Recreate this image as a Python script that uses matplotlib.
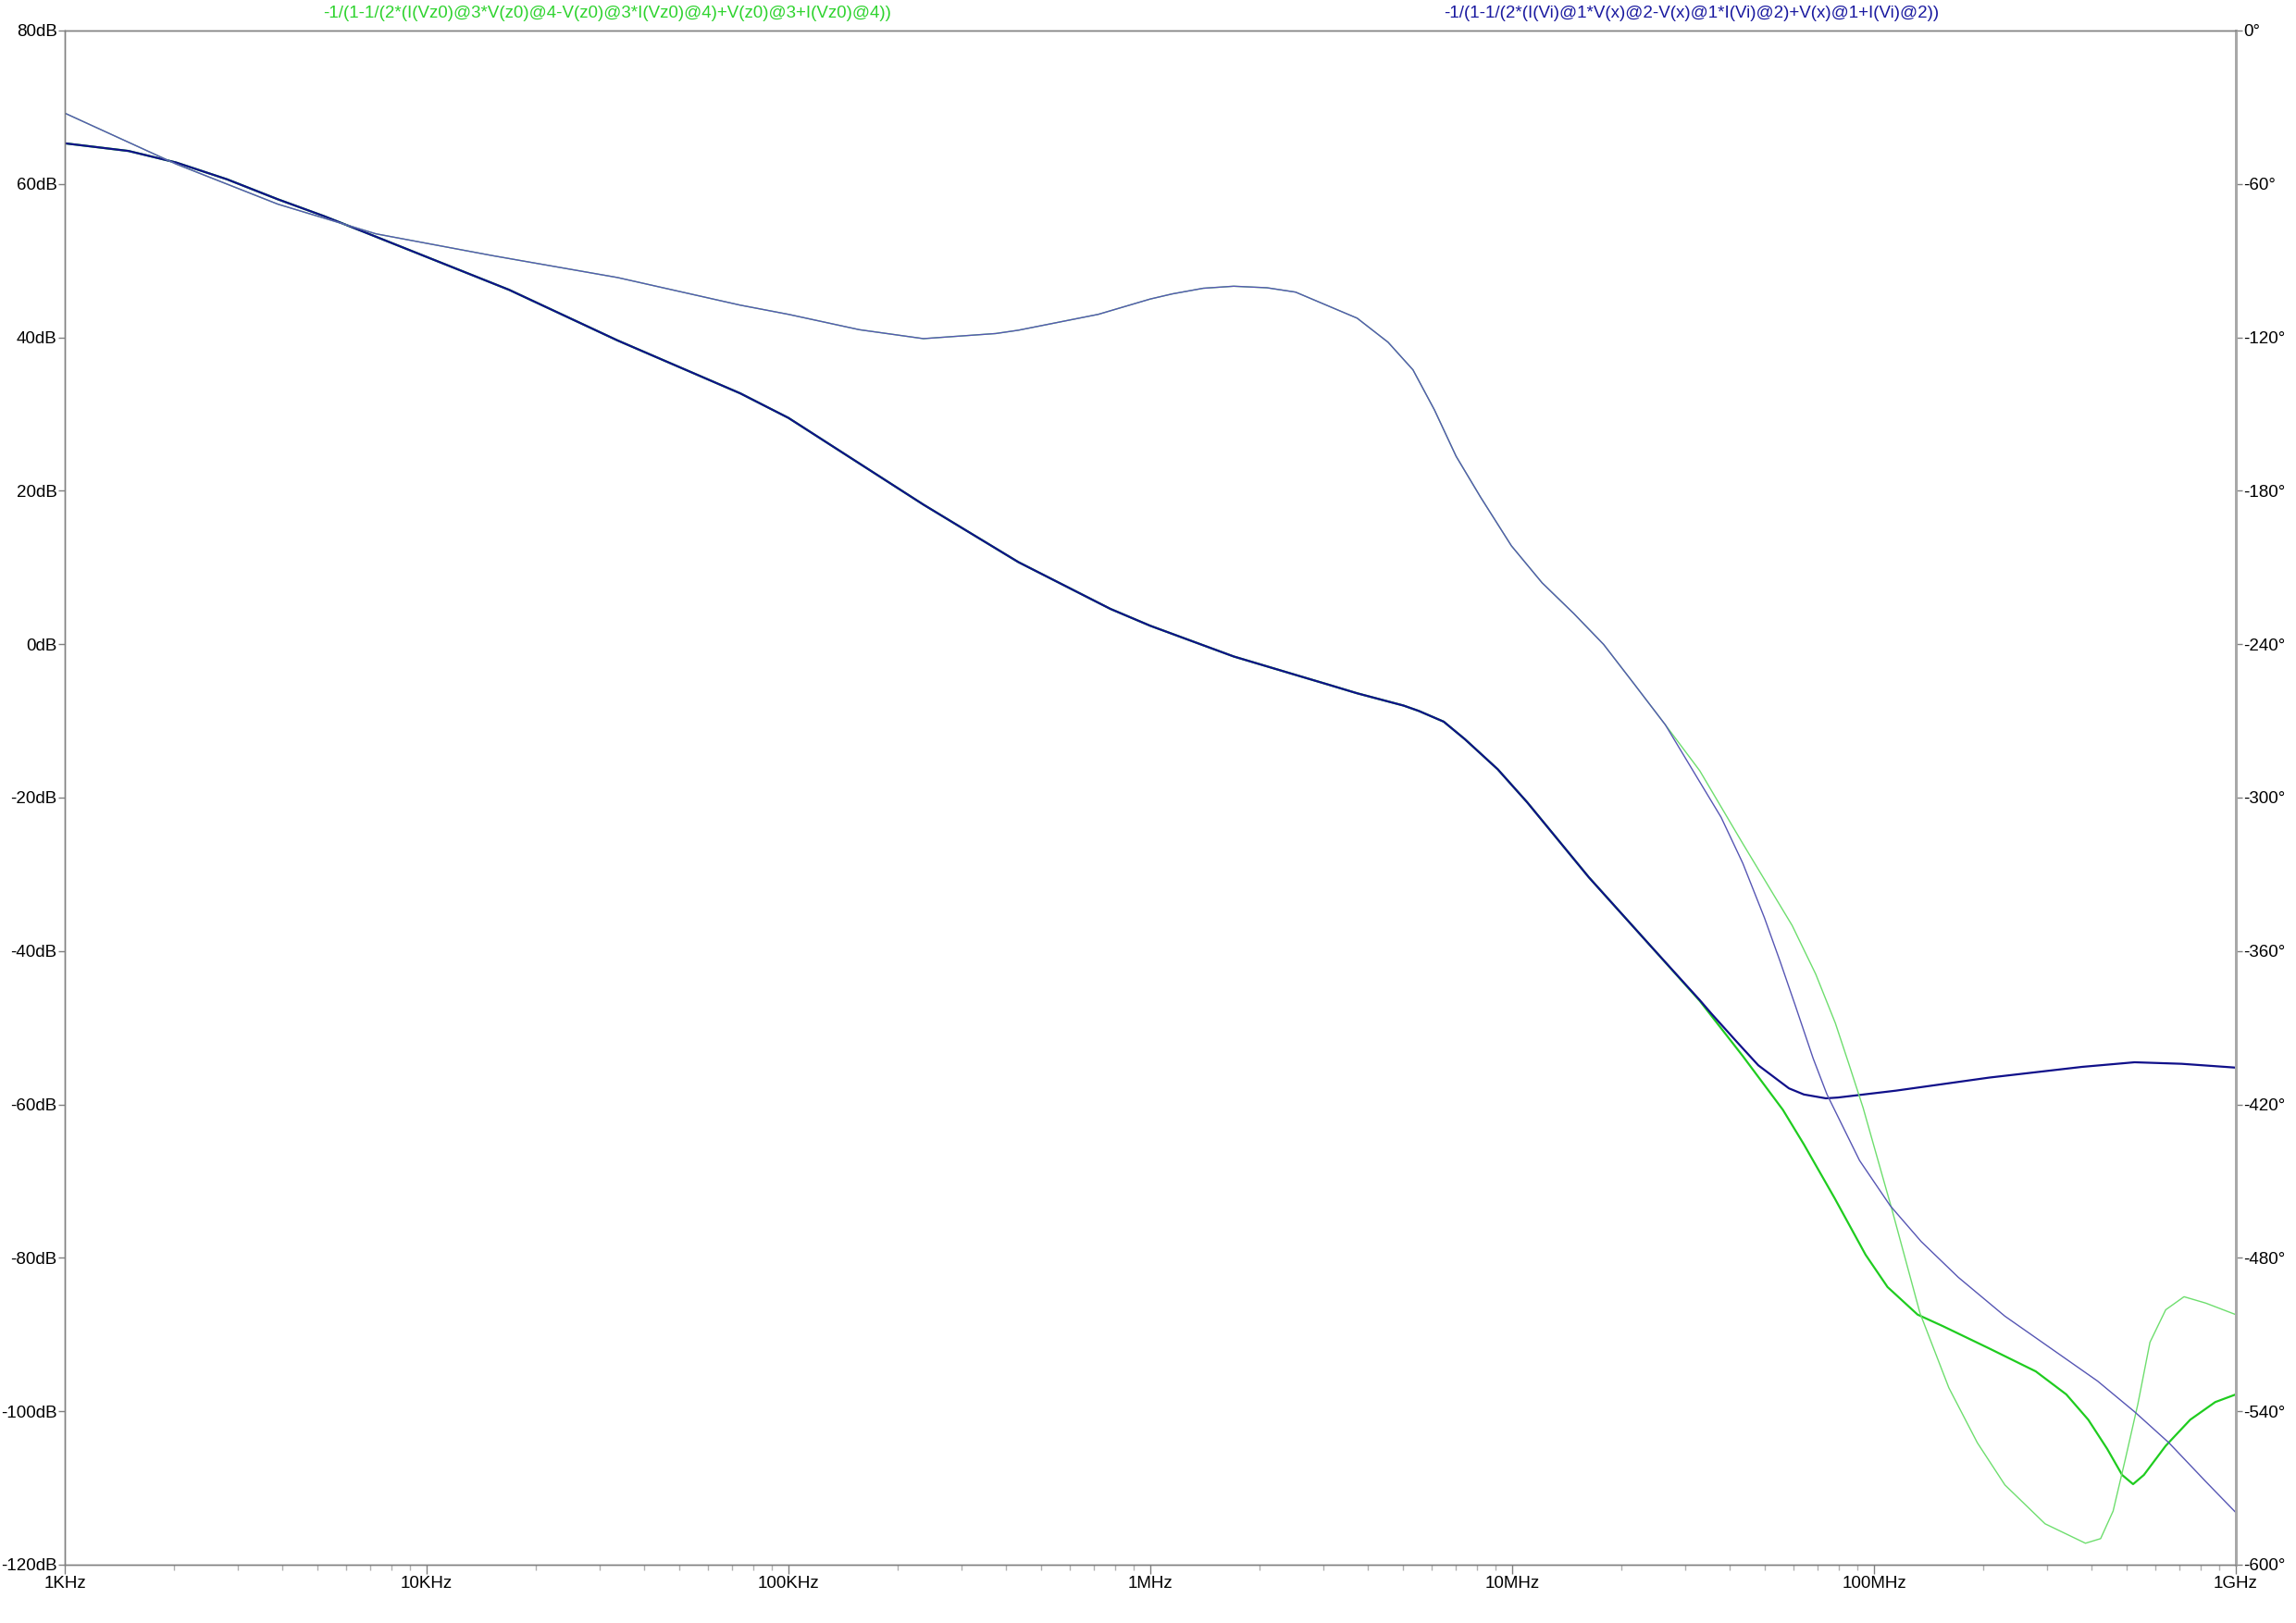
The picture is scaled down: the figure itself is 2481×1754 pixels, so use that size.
import matplotlib
matplotlib.use('Agg')
import matplotlib.pyplot as plt
from matplotlib.ticker import FixedLocator, NullFormatter

plt.rcParams['font.family'] = ['Liberation Sans', 'DejaVu Sans']

# Magnitude of the Vi/V(x) loop gain (blue), in dB
blue_mag_freq = [1.00e3, 1.50e3, 2.03e3, 2.81e3, 3.88e3, 5.21e3, 7.00e3, 1.69e4, 3.37e4,
                 7.36e4, 1.00e5, 2.36e5, 4.32e5, 7.76e5, 1.00e6, 1.70e6, 2.52e6, 3.07e6,
                 3.73e6, 5.01e6, 5.52e6, 6.47e6, 7.41e6, 9.12e6, 1.10e7, 1.63e7, 2.41e7,
                 3.30e7, 3.56e7, 4.17e7, 4.79e7, 5.82e7, 6.40e7, 7.36e7, 7.94e7, 1.15e8,
                 2.08e8, 3.76e8, 5.25e8, 7.08e8, 1.00e9]
blue_mag_db = [65.3, 64.3, 62.8, 60.6, 58.0, 55.8, 53.4, 46.2, 39.6,
               32.7, 29.5, 18.2, 10.7, 4.6, 2.4, -1.6, -4.0, -5.2,
               -6.4, -8.0, -8.7, -10.1, -12.4, -16.3, -20.6, -30.4, -39.3,
               -46.4, -48.2, -51.8, -54.9, -57.9, -58.7, -59.2, -59.1, -58.2,
               -56.5, -55.1, -54.5, -54.7, -55.2]

# Phase of the blue trace, in degrees
blue_ph_freq = [1.00e3, 2.03e3, 3.88e3, 7.24e3, 1.53e4, 3.37e4, 7.36e4, 1.00e5, 1.57e5,
                2.36e5, 3.74e5, 4.32e5, 7.18e5, 1.00e6, 1.15e6, 1.40e6, 1.70e6, 2.10e6,
                2.52e6, 3.73e6, 4.54e6, 5.32e6, 6.10e6, 7.00e6, 8.18e6, 9.95e6, 1.21e7,
                1.48e7, 1.79e7, 2.18e7, 2.65e7, 3.24e7, 3.78e7, 4.34e7, 4.98e7, 5.50e7,
                6.05e7, 6.79e7, 7.41e7, 9.12e7, 1.11e8, 1.35e8, 1.71e8, 2.30e8, 3.09e8,
                4.15e8, 5.26e8, 6.53e8, 8.26e8, 1.00e9]
blue_ph_deg = [-32.3, -52.2, -67.9, -79.5, -88.1, -96.6, -107.4, -111.0, -117.0,
               -120.5, -118.5, -117.2, -111.0, -105.0, -103.0, -100.8, -100.0, -100.6,
               -102.3, -112.5, -121.9, -132.7, -148.4, -166.5, -182.5, -201.5, -216.0,
               -228.0, -240.1, -255.8, -271.5, -292.0, -307.7, -325.7, -347.0, -364.0,
               -381.0, -402.0, -416.0, -441.9, -459.7, -473.6, -487.6, -502.8, -515.5,
               -528.2, -540.3, -552.3, -567.5, -579.6]

# Green trace (Vz0 version) follows the blue one at low frequency, then splits off
green_mag_freq = blue_mag_freq[:27] + [3.30e7, 4.34e7, 5.60e7, 6.40e7, 7.78e7, 9.48e7, 1.09e8,
                                       1.32e8, 1.55e8, 2.08e8, 2.80e8, 3.40e8, 3.91e8, 4.41e8,
                                       4.85e8, 5.20e8, 5.57e8, 6.40e8, 7.48e8, 8.77e8, 1.00e9]
green_mag_db = blue_mag_db[:27] + [-46.5, -53.7, -60.7, -65.2, -72.2, -79.6, -83.8,
                                   -87.4, -88.9, -91.8, -94.8, -97.8, -101.1, -104.9,
                                   -108.3, -109.5, -108.3, -104.5, -101.1, -98.8, -97.8]

green_ph_freq = blue_ph_freq[:31] + [3.30e7, 4.34e7, 5.94e7, 6.90e7, 7.82e7, 8.51e7, 9.33e7,
                                     1.12e8, 1.34e8, 1.61e8, 1.93e8, 2.30e8, 2.97e8, 3.84e8,
                                     4.23e8, 4.58e8, 4.95e8, 5.36e8, 5.79e8, 6.40e8, 7.19e8,
                                     8.26e8, 1.00e9]
green_ph_deg = blue_ph_deg[:31] + [-289.5, -318.0, -350.0, -369.0, -388.2, -403.9, -421.3,
                                   -460.9, -501.6, -530.8, -552.3, -568.8, -584.0, -591.6,
                                   -589.8, -579.0, -558.7, -537.2, -513.0, -500.3, -495.2,
                                   -497.7, -502.2]

freq_ticks = [1e3, 1e4, 1e5, 1e6, 1e7, 1e8, 1e9]
freq_labels = ['1KHz', '10KHz', '100KHz', '1MHz', '10MHz', '100MHz', '1GHz']
db_ticks = list(range(-120, 81, 20))
deg_ticks = list(range(-600, 1, 60))

green_title = '-1/(1-1/(2*(I(Vz0)@3*V(z0)@4-V(z0)@3*I(Vz0)@4)+V(z0)@3+I(Vz0)@4))'
blue_title = '-1/(1-1/(2*(I(Vi)@1*V(x)@2-V(x)@1*I(Vi)@2)+V(x)@1+I(Vi)@2))'

fig = plt.figure(figsize=(24.81, 17.54), dpi=100)
ax = fig.add_axes([0.02821, 0.03592, 0.94559, 0.94527])
ax2 = ax.twinx()

ax.plot(green_mag_freq, green_mag_db, color='#1fcc1f', lw=1.6)
ax.plot(blue_mag_freq, blue_mag_db, color='#10108a', lw=1.6)
ax2.plot(green_ph_freq, green_ph_deg, color='#6ede6e', lw=1.0)
ax2.plot(blue_ph_freq, blue_ph_deg, color='#5656b4', lw=1.0)

ax.set_xscale('log')
ax.set_xlim(1e3, 1e9)
ax.set_ylim(-120, 80)
ax2.set_ylim(-600, 0)

ax.xaxis.set_major_locator(FixedLocator(freq_ticks))
ax.set_xticklabels(freq_labels)
minors = [m * d for d in freq_ticks[:-1] for m in range(2, 10)]
ax.xaxis.set_minor_locator(FixedLocator(minors))
ax.xaxis.set_minor_formatter(NullFormatter())

ax.set_yticks(db_ticks)
ax.set_yticklabels([f'{v}dB' for v in db_ticks])
ax2.set_yticks(deg_ticks)
ax2.set_yticklabels([f'{v}\u00b0' for v in deg_ticks])

ax.tick_params(axis='both', which='major', direction='out', length=5, width=1,
               color='#808080', labelsize=13.5, pad=1)
ax.tick_params(axis='x', which='minor', direction='out', length=4, width=1, color='#b0b0b0')
ax.tick_params(axis='x', which='major', length=7, pad=2)
ax2.tick_params(axis='y', direction='out', length=5, width=1, color='#808080',
                labelsize=13.5, pad=1)

for a in (ax, ax2):
    for side in ('left', 'top', 'bottom'):
        a.spines[side].set_color('#808080')
        a.spines[side].set_linewidth(1.0)
    a.spines['right'].set_color('#a8a8a8')
    a.spines['right'].set_linewidth(2.0)

fig.text(0.2644, 0.992, green_title, color='#2ed32e', fontsize=13.5, ha='center', va='center')
fig.text(0.7365, 0.992, blue_title, color='#1a1aa0', fontsize=13.5, ha='center', va='center')

fig.savefig('out.png', dpi=100, facecolor='white')
